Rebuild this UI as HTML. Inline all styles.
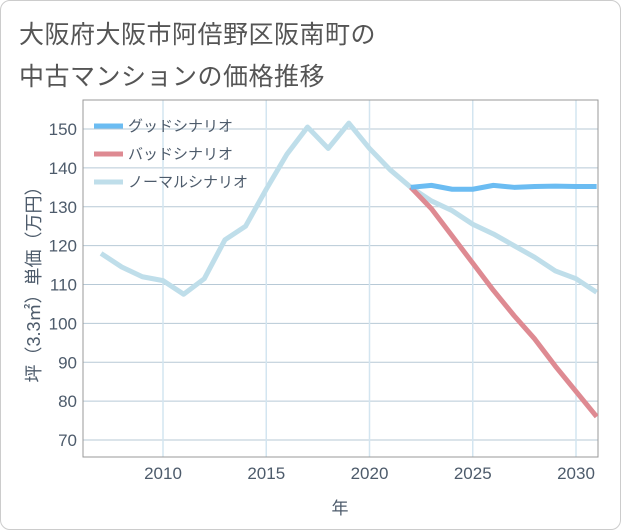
<!DOCTYPE html>
<html><head><meta charset="utf-8"><style>
body{margin:0;background:#fff}
#wrap{position:relative;width:619px;height:528px;border:1px solid #ccc;border-radius:10px;overflow:hidden;background:#fff;font-family:"Liberation Sans","Noto Sans CJK JP",sans-serif}
.t{position:absolute;left:18px;font-size:25px;color:#555;letter-spacing:0.5px}
</style></head><body>
<div id="wrap">
<div class="t" style="top:14px">大阪府大阪市阿倍野区阪南町の</div>
<div class="t" style="top:56px">中古マンションの価格推移</div>
<svg id="c" width="621" height="530" style="position:absolute;left:-1px;top:-1px"></svg>
</div>
<script>
const years=[2007,2008,2009,2010,2011,2012,2013,2014,2015,2016,2017,2018,2019,2020,2021,2022,2023,2024,2025,2026,2027,2028,2029,2030,2031];
const normal=[118,114.5,112,111,107.5,111.5,121.5,125,134.5,143.5,150.5,145,151.5,145,139.5,135,131.5,129,125.5,123,120,117,113.5,111.5,108];
const predYears=[2022,2023,2024,2025,2026,2027,2028,2029,2030,2031];
const good=[135,135.5,134.5,134.5,135.5,135,135.2,135.3,135.2,135.2];
const bad=[135,129.5,122.5,115.5,108.5,102,96,89,82.5,76];
const xTicks=[2010,2015,2020,2025,2030];
const yTicks=[70,80,90,100,110,120,130,140,150];
const L=83,R=598,T=100,B=457;
const x=v=>163+(v-2010)*20.65;
const y=v=>129+(150-v)*3.888;
const s=document.getElementById('c');const NS='http://www.w3.org/2000/svg';
const TC='#4d5b6b';
function el(t,a,txt){const e=document.createElementNS(NS,t);for(const k in a)e.setAttribute(k,a[k]);if(txt!==undefined)e.textContent=txt;s.appendChild(e);return e;}
yTicks.forEach(v=>{const g=el('line',{x1:L,x2:R,y1:y(v),y2:y(v),stroke:'#b7c9d6','stroke-width':1});

const t=el('text',{x:77,y:y(v)+6,'text-anchor':'end','font-size':17,fill:TC,'font-family':'Liberation Sans, sans-serif'},v);
});
xTicks.forEach(v=>{const g=el('line',{x1:x(v),x2:x(v),y1:T,y2:B,stroke:'#d3e5f0','stroke-width':1.5});

const t=el('text',{x:x(v),y:479,'text-anchor':'middle','font-size':17,fill:TC,'font-family':'Liberation Sans, sans-serif'},v);
});
const fr=el('rect',{x:L,y:T,width:R-L,height:B-T,fill:'none',stroke:'#999','stroke-width':1});

const cp=el('clipPath',{id:'cl'});const cr=document.createElementNS(NS,'rect');cr.setAttribute('x',L);cr.setAttribute('y',T);cr.setAttribute('width',R-L);cr.setAttribute('height',B-T);cp.appendChild(cr);
function line(xs,vs,c,n){const p=el('polyline',{points:xs.map((yr,i)=>x(yr)+','+y(vs[i])).join(' '),fill:'none',stroke:c,'stroke-width':5,'stroke-linejoin':'round','clip-path':'url(#cl)'});
}
line(years,normal,'#bfdeea','normal-scenario-line');
line(predYears,bad,'#de8a92','bad-scenario-line');
line(predYears,good,'#6bbcf2','good-scenario-line');
const leg=[['グッドシナリオ','#6bbcf2','legend-good'],['バッドシナリオ','#de8a92','legend-bad'],['ノーマルシナリオ','#bfdeea','legend-normal']];
leg.forEach((d,i)=>{const yy=126+i*28;
const l=el('line',{x1:94,x2:123,y1:yy,y2:yy,stroke:d[1],'stroke-width':5});
const t=el('text',{x:128,y:yy+5,'font-size':15,fill:TC,'font-family':'Liberation Sans, Noto Sans CJK JP, sans-serif'},d[0]);});
const xt=el('text',{x:340,y:514,'text-anchor':'middle','font-size':17,fill:TC,'font-family':'Liberation Sans, Noto Sans CJK JP, sans-serif'},'年');

const yt=el('text',{x:0,y:0,'text-anchor':'middle','font-size':18,fill:TC,transform:'translate(40,280) rotate(-90)','font-family':'Liberation Sans, Noto Sans CJK JP, sans-serif'},'坪（3.3㎡）単価（万円）');

</script>
</body></html>
